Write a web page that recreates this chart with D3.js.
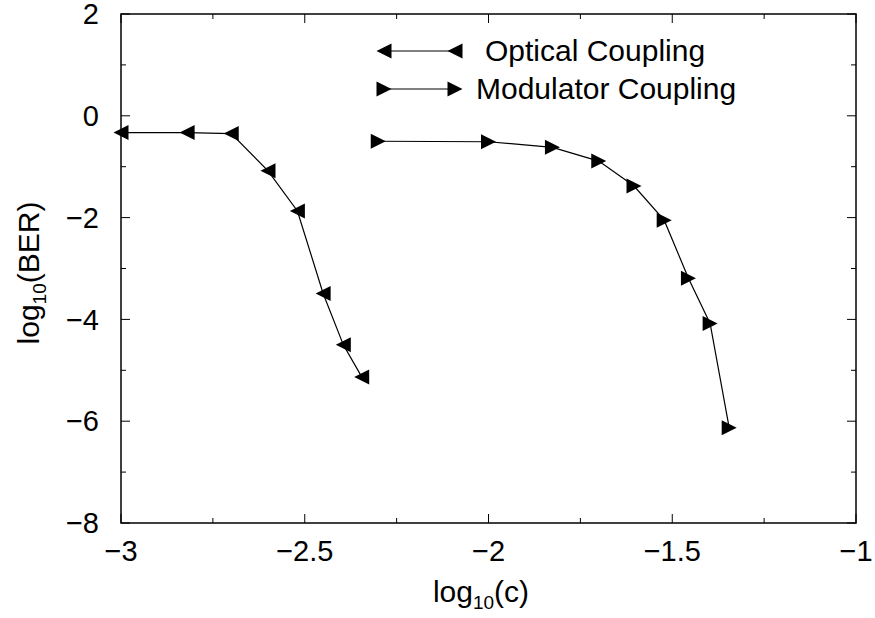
<!DOCTYPE html>
<html>
<head>
<meta charset="utf-8">
<script src="https://cdn.jsdelivr.net/npm/d3@7"></script>
<style>
  html, body { margin: 0; padding: 0; background: #fff; }
  svg text { font-family: "Liberation Sans", Arial, Helvetica, sans-serif; fill: #000; }
</style>
</head>
<body>
<svg id="chart" width="875" height="618"></svg>
<script>
// BER versus coupling coefficient, both on log10 scales
const opticalX = [-3.00, -2.82, -2.70, -2.60, -2.52, -2.45, -2.395, -2.345];
const opticalY = [-0.33, -0.33, -0.35, -1.08, -1.87, -3.49, -4.50, -5.13];

const modulatorX = [-2.30, -2.00, -1.826, -1.70, -1.604, -1.522, -1.456, -1.397, -1.345];
const modulatorY = [-0.50, -0.51, -0.62, -0.89, -1.38, -2.05, -3.19, -4.08, -6.13];

const seriesNames = ["Optical Coupling", "Modulator Coupling"];
const xTicks = [-3, -2.5, -2, -1.5, -1];
const xMinorTicks = [-2.75, -2.25, -1.75, -1.25];
const yTicks = [2, 0, -2, -4, -6, -8];
const yMinorTicks = [1, -1, -3, -5, -7];

const svg = d3.select("#chart");
const plotL = 121, plotR = 856, plotT = 14, plotB = 523;

const x = d3.scaleLinear().domain([-3, -1]).range([plotL, plotR]);
const y = d3.scaleLinear().domain([-8, 2]).range([plotB, plotT]);

const fmt = d => (d < 0 ? "\u2212" + Math.abs(d) : String(d));

// frame
svg.append("rect")
  .attr("x", plotL).attr("y", plotT)
  .attr("width", plotR - plotL).attr("height", plotB - plotT)
  .attr("fill", "none").attr("stroke", "#000").attr("stroke-width", 1.5);

// inward ticks on all four sides
const major = 9, minor = 5;
const tickG = svg.append("g").attr("stroke", "#000").attr("stroke-width", 1);
function xTickLines(vals, len) {
  vals.forEach(v => {
    tickG.append("line").attr("x1", x(v)).attr("x2", x(v)).attr("y1", plotB).attr("y2", plotB - len);
    tickG.append("line").attr("x1", x(v)).attr("x2", x(v)).attr("y1", plotT).attr("y2", plotT + len);
  });
}
function yTickLines(vals, len) {
  vals.forEach(v => {
    tickG.append("line").attr("y1", y(v)).attr("y2", y(v)).attr("x1", plotL).attr("x2", plotL + len);
    tickG.append("line").attr("y1", y(v)).attr("y2", y(v)).attr("x1", plotR).attr("x2", plotR - len);
  });
}
xTickLines(xTicks, major); xTickLines(xMinorTicks, minor);
yTickLines(yTicks, major); yTickLines(yMinorTicks, minor);

// tick labels
svg.append("g").selectAll("text").data(xTicks).join("text")
  .attr("x", d => x(d)).attr("y", 561)
  .attr("text-anchor", "middle").attr("font-size", 29)
  .text(fmt);

svg.append("g").selectAll("text").data(yTicks).join("text")
  .attr("x", 99).attr("y", d => y(d)).attr("dy", "0.35em")
  .attr("text-anchor", "end").attr("font-size", 29)
  .text(fmt);

// axis titles
const xl = svg.append("text").attr("x", 481).attr("y", 602)
  .attr("text-anchor", "middle").attr("font-size", 30);
xl.append("tspan").text("log");
xl.append("tspan").attr("font-size", 19).attr("dy", 7).text("10");
xl.append("tspan").attr("dy", -7).text("(c)");

const yl = svg.append("text").attr("transform", "translate(39,273) rotate(-90)")
  .attr("text-anchor", "middle").attr("font-size", 30);
yl.append("tspan").text("log");
yl.append("tspan").attr("font-size", 19).attr("dy", 7).text("10");
yl.append("tspan").attr("dy", -7).text("(BER)");

// markers: 15px triangles centred on the point
const triLeft = "M-7.5,0L7.5,-7.5L7.5,7.5Z";
const triRight = "M7.5,0L-7.5,-7.5L-7.5,7.5Z";

const line = d3.line().x(d => x(d[0])).y(d => y(d[1]));

function drawSeries(xs, ys, shape) {
  const pts = xs.map((v, i) => [v, ys[i]]);
  svg.append("path").datum(pts)
    .attr("d", line).attr("fill", "none").attr("stroke", "#000").attr("stroke-width", 1.2);
  svg.append("g").selectAll("path").data(pts).join("path")
    .attr("transform", d => `translate(${x(d[0])},${y(d[1])})`)
    .attr("d", shape).attr("fill", "#000");
}
drawSeries(opticalX, opticalY, triLeft);
drawSeries(modulatorX, modulatorY, triRight);

// legend
const legend = [
  { name: seriesNames[0], shape: triLeft, cy: 51, tx: 485 },
  { name: seriesNames[1], shape: triRight, cy: 89, tx: 476 }
];
legend.forEach(l => {
  svg.append("line").attr("x1", 384).attr("x2", 455).attr("y1", l.cy).attr("y2", l.cy)
    .attr("stroke", "#000").attr("stroke-width", 1.2);
  [384, 455].forEach(cx => {
    svg.append("path").attr("transform", `translate(${cx},${l.cy})`).attr("d", l.shape).attr("fill", "#000");
  });
  svg.append("text").attr("x", l.tx).attr("y", l.cy + 10).attr("font-size", 30).text(l.name);
});
</script>
</body>
</html>
